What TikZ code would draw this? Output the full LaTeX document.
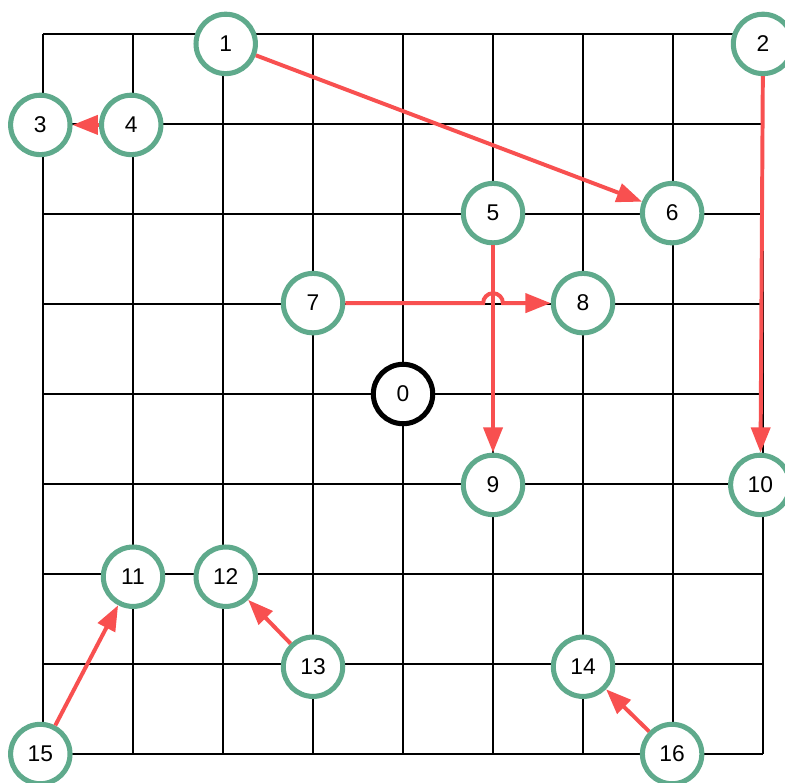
\documentclass[tikz,border=0pt]{standalone}
\usepackage{fontspec}
\setmainfont{Liberation Sans}
\usepackage{xcolor}
\usetikzlibrary{positioning, calc, arrows.meta}
\definecolor{nodegreen}{RGB}{95,170,140}
\definecolor{arrowred}{RGB}{248,80,80}
\tikzset{
    vert/.style={circle, draw=nodegreen, line width=1.6pt, fill=white, minimum size=0.66cm, inner sep=0pt, font=\fontsize{7.2}{8}\selectfont},
    origin/.style={vert, draw=black},
    edge/.style={arrowred, line width=1.25pt, -{Triangle[length=8pt, width=6pt]}}
}

\begin{document}
\begin{tikzpicture}[x=1cm, y=-1cm]
    \useasboundingbox (-0.478, -0.378) rectangle (8.244, 8.322);
    % Grid
    \foreach \i in {0,...,8} {
        \draw[line width=0.45pt] (\i, 0) -- (\i, 8);
        \draw[line width=0.45pt] (0, \i) -- (8, \i);
    }

    % Nodes
    \node[origin] (n0) at (4, 4) {0};
    \node[vert] (n1) at (2.03, 0.11) {1};
    \node[vert] (n2) at (8.0, 0.11) {2};
    \node[vert] (n3) at (-0.03, 1.01) {3};
    \node[vert] (n4) at (0.98, 1.01) {4};
    \node[vert] (n5) at (5, 1.99) {5};
    \node[vert] (n6) at (6.99, 1.99) {6};
    \node[vert] (n7) at (3, 2.99) {7};
    \node[vert] (n8) at (6, 2.99) {8};
    \node[vert] (n9) at (5, 5.01) {9};
    \node[vert] (n10) at (7.97, 5.01) {10};
    \node[vert] (n11) at (1, 6.03) {11};
    \node[vert] (n12) at (2.03, 6.03) {12};
    \node[vert] (n13) at (3, 7.03) {13};
    \node[vert] (n14) at (6, 7.03) {14};
    \node[vert] (n15) at (-0.03, 8) {15};
    \node[vert] (n16) at (6.99, 8) {16};

    % Moves
    \draw[edge] (n1) -- (n6);
    \draw[edge] (n2) -- (n10);
    \draw[edge] (n4) -- (n3);
    \draw[edge] (n5) -- (n9);
    \draw[edge] (n7) -- ([xshift=-0.11cm]n5 |- n7) arc[start angle=180, end angle=0, radius=0.11cm] -- (n8);
    \draw[edge] (n13) -- (n12);
    \draw[edge] (n15) -- (n11);
    \draw[edge] (n16) -- (n14);
\end{tikzpicture}
\end{document}
